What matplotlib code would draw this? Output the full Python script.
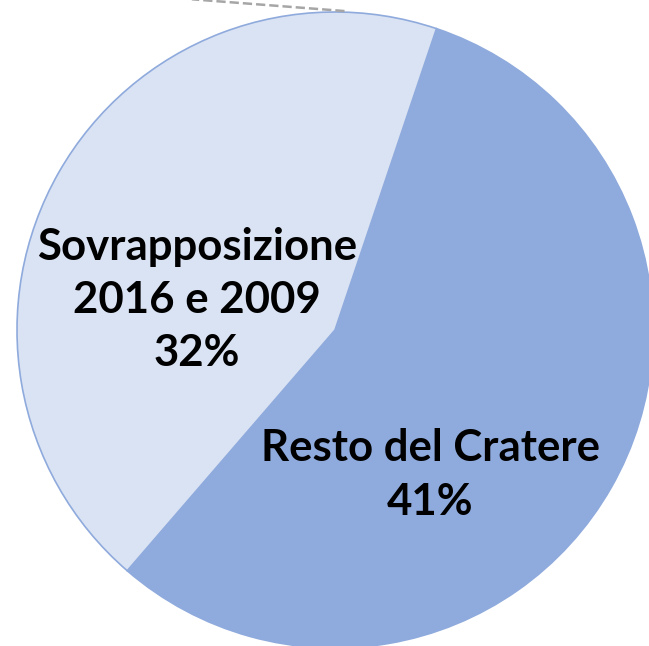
import matplotlib.pyplot as plt

# Data
labels = ['Resto del Cratere', 'Sovrapposizione\n2016 e 2009']
values = [41, 32]
pct_labels = ['41%', '32%']
colors = ['#8FAADC', '#DAE3F3']

fig = plt.figure(figsize=(6.49, 6.46), dpi=100)
ax = fig.add_axes([17 / 649, -2 / 646, 636 / 649, 636 / 646])

ax.pie(values, colors=colors, startangle=229.2, counterclock=True,
       wedgeprops=dict(edgecolor='#8FAADC', linewidth=1.2))
ax.set_xlim(-1, 1)
ax.set_ylim(-1, 1)
ax.set_aspect('auto')
ax.axis('off')

# Labels inside the slices
font = dict(family=['Lato', 'DejaVu Sans'], fontweight='bold', fontsize=31.5,
            ha='center', va='center', linespacing=1.4)
ax.text(0.30, -0.456, labels[0] + '\n' + pct_labels[0], **font)
ax.text(-0.434, 0.094, labels[1] + '\n' + pct_labels[1], **font)

# Connector line going off the top (pie-of-pie leader)
ax.plot([0.03, -0.45], [1.003, 1.04], color='#A6A6A6', linestyle='--',
        linewidth=1.8, clip_on=False)

fig.savefig('out.png', dpi=100)
